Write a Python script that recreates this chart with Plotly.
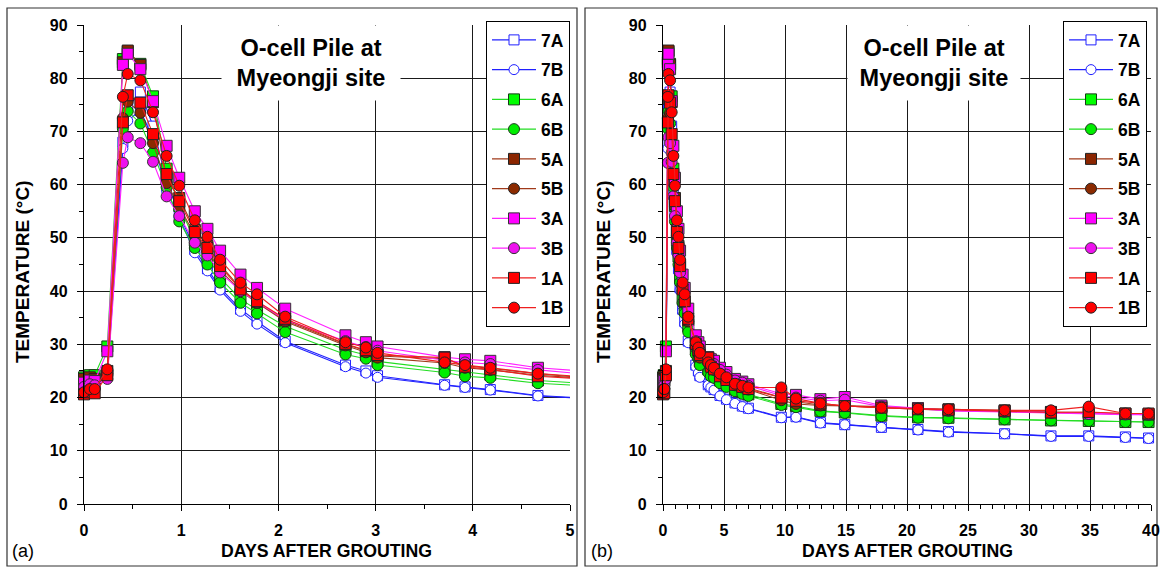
import plotly.graph_objects as go

# ---------------- data ----------------
days = [0, 0.06, 0.11, 0.24, 0.40, 0.45, 0.58, 0.71, 0.85, 0.98, 1.14, 1.27, 1.40,
        1.61, 1.78, 2.07, 2.69, 2.90, 3.02, 3.71, 3.92, 4.18, 4.67, 5.2, 5.9, 6.5, 7.0,
        9.7, 10.9, 12.9, 14.9, 17.9, 20.9, 23.4, 28.0, 31.8, 34.9, 37.9, 39.8]

t7A = [22.5, 22.8, 22.5, 24.5, 68.0, 74.5, 77.4, 71.0, 60.5, 54.5, 47.8, 44.2, 40.6,
       36.6, 34.3, 30.6, 26.1, 25.0, 24.1, 22.4, 22.0, 21.5, 20.4, 19.7, 19.0, 18.4, 18.0,
       16.3, 16.4, 15.3, 14.9, 14.4, 14.0, 13.6, 13.2, 12.8, 12.8, 12.6, 12.4]
t7B = [21.5, 22.0, 22.0, 23.8, 66.8, 72.0, 74.0, 68.5, 58.8, 53.8, 47.2, 43.8, 40.2,
       36.2, 33.8, 30.3, 25.8, 24.6, 23.8, 22.3, 21.9, 21.4, 20.3, 19.6, 18.9, 18.3, 17.9,
       16.2, 16.3, 15.2, 14.9, 14.4, 13.9, 13.5, 13.2, 12.7, 12.7, 12.5, 12.3]
t6A = [23.8, 24.2, 24.2, 29.6, 83.6, 85.0, 82.7, 76.6, 63.0, 56.0, 49.5, 46.5, 42.5,
       38.5, 36.5, 33.4, 29.0, 28.0, 26.8, 25.3, 24.8, 24.3, 23.2, 22.5, 21.5, 21.0, 20.6,
       18.8, 18.4, 17.5, 17.2, 16.6, 16.3, 16.2, 15.9, 15.7, 15.6, 15.4, 15.4]
t6B = [22.5, 23.0, 23.0, 25.0, 70.5, 73.8, 71.5, 66.0, 59.5, 53.1, 48.1, 45.0, 41.6,
       37.8, 35.8, 32.3, 28.1, 27.3, 26.1, 24.7, 24.0, 23.7, 22.7, 22.0, 21.2, 20.7, 20.3,
       18.6, 18.2, 17.4, 17.1, 16.5, 16.2, 16.1, 15.9, 15.7, 15.6, 15.4, 15.4]
t5A = [23.5, 23.8, 23.5, 25.0, 83.0, 85.2, 82.5, 75.5, 61.0, 57.5, 51.5, 48.5, 45.0,
       40.5, 38.0, 34.5, 30.0, 28.8, 27.8, 27.3, 26.0, 25.5, 24.5, 23.6, 22.5, 22.2, 21.8,
       20.0, 19.2, 18.6, 18.5, 18.3, 18.0, 17.8, 17.6, 17.3, 17.2, 17.0, 16.8]
t5B = [21.5, 22.0, 21.8, 24.5, 72.5, 75.6, 73.5, 67.8, 60.3, 55.9, 50.5, 47.5, 44.0,
       40.0, 37.8, 34.3, 29.8, 28.5, 27.5, 26.5, 25.6, 25.2, 24.2, 23.4, 22.3, 21.9, 21.5,
       19.5, 18.8, 18.5, 18.4, 18.1, 17.8, 17.6, 17.4, 17.2, 17.0, 16.9, 16.8]
t3A = [22.8, 23.2, 23.1, 28.7, 82.5, 84.6, 81.7, 75.7, 67.3, 61.3, 55.0, 51.7, 47.6,
       43.1, 40.6, 36.7, 31.7, 30.4, 29.6, 27.6, 27.2, 26.9, 25.6, 24.8, 23.5, 23.0, 22.5,
       20.7, 20.5, 19.7, 20.1, 18.5, 18.0, 17.6, 17.4, 17.2, 17.0, 16.9, 16.9]
t3B = [22.0, 22.5, 22.3, 23.5, 64.1, 68.9, 67.8, 64.3, 57.8, 54.1, 49.1, 46.7, 43.5,
       40.0, 38.0, 34.6, 30.6, 29.5, 28.8, 27.0, 26.6, 26.3, 25.2, 24.3, 23.2, 22.8, 22.2,
       20.4, 20.0, 19.4, 19.6, 18.3, 17.9, 17.5, 17.3, 17.1, 16.9, 16.8, 16.8]
t1A = [20.6, 21.0, 20.8, 24.2, 71.7, 76.8, 75.4, 69.5, 62.0, 56.9, 51.1, 48.1, 44.7,
       40.3, 38.1, 34.8, 30.1, 28.9, 28.0, 27.5, 25.8, 25.3, 24.0, 23.3, 22.4, 22.0, 21.6,
       20.0, 19.4, 18.9, 18.4, 18.1, 17.8, 17.7, 17.5, 17.2, 17.3, 17.0, 17.0]
t1B = [21.0, 21.6, 21.6, 25.3, 76.5, 80.8, 79.6, 73.6, 65.4, 59.8, 53.3, 50.2, 45.9,
       41.6, 39.4, 35.2, 30.4, 29.4, 28.4, 26.6, 26.1, 25.6, 24.5, 23.8, 22.6, 22.2, 21.9,
       21.9, 19.8, 18.9, 18.4, 18.1, 17.9, 17.8, 17.6, 17.6, 18.3, 17.0, 17.0]

series_names = ["7A", "7B", "6A", "6B", "5A", "5B", "3A", "3B", "1A", "1B"]
series_vals = [t7A, t7B, t6A, t6B, t5A, t5B, t3A, t3B, t1A, t1B]
x_ticks_a = [0, 1, 2, 3, 4, 5]
x_ticks_b = [0, 5, 10, 15, 20, 25, 30, 35, 40]
y_ticks = [0, 10, 20, 30, 40, 50, 60, 70, 80, 90]

# ---------------- styles ----------------
styles = {
    "7A": dict(line="#2020ff", fill="white", edge="#2020ff", sym="square", size=10),
    "7B": dict(line="#2020ff", fill="white", edge="#2020ff", sym="circle", size=10),
    "6A": dict(line="#22dd22", fill="#00ff00", edge="#1a3a1a", sym="square", size=11),
    "6B": dict(line="#22dd22", fill="#00ee00", edge="#1a3a1a", sym="circle", size=11),
    "5A": dict(line="#a03a1a", fill="#8b2500", edge="#222222", sym="square", size=11),
    "5B": dict(line="#a03a1a", fill="#8b2a00", edge="#222222", sym="circle", size=11),
    "3A": dict(line="#ff22ff", fill="#ff00ff", edge="#333333", sym="square", size=11),
    "3B": dict(line="#ff22ff", fill="#ee11ee", edge="#333333", sym="circle", size=11),
    "1A": dict(line="#ee2020", fill="#ff0000", edge="#222222", sym="square", size=11),
    "1B": dict(line="#ee2020", fill="#ff0000", edge="#222222", sym="circle", size=11),
}

W, H = 1161, 569
def px_x(p):
    return p / W
def px_y(p):
    return 1 - p / H

fig = go.Figure()

# panel (a): overflow lines beyond x=5 (clipped by axis), drawn underneath
XMAX_A = 5
for name, vals in zip(series_names, series_vals):
    st = styles[name]
    idx = [i for i, d in enumerate(days) if d <= XMAX_A]
    last = idx[-1]
    fig.add_trace(go.Scatter(
        x=days[last:], y=vals[last:], mode="lines",
        line=dict(color=st["line"], width=1.1),
        showlegend=False, hoverinfo="skip", xaxis="x", yaxis="y"))

for name, vals in zip(series_names, series_vals):
    st = styles[name]
    xs = [d for d in days if d <= XMAX_A]
    ys = vals[:len(xs)]
    fig.add_trace(go.Scatter(
        x=xs, y=ys, mode="lines+markers", name=name,
        line=dict(color=st["line"], width=1.1),
        marker=dict(symbol=st["sym"], size=st["size"], color=st["fill"],
                    line=dict(color=st["edge"], width=1)),
        cliponaxis=False, legend="legend", legendgroup="a" + name,
        xaxis="x", yaxis="y"))

for name, vals in zip(series_names, series_vals):
    st = styles[name]
    fig.add_trace(go.Scatter(
        x=days, y=vals, mode="lines+markers", name=name,
        line=dict(color=st["line"], width=1.1),
        marker=dict(symbol=st["sym"], size=st["size"], color=st["fill"],
                    line=dict(color=st["edge"], width=1)),
        cliponaxis=False, legend="legend2", legendgroup="b" + name,
        xaxis="x2", yaxis="y2"))

# ---------------- layout ----------------
FONT = "Liberation Sans, Arial, sans-serif"
plot_top, plot_bot = 25, 504
ydom = [px_y(plot_bot), px_y(plot_top)]

def xaxis(domain, rng, tickvals, minor_dtick, anchor):
    return dict(domain=domain, range=rng, tickvals=tickvals, anchor=anchor,
                automargin=False,
                showgrid=True, gridcolor="#1a1a1a", gridwidth=1.4,
                showline=True, linecolor="black", linewidth=1.4,
                ticks="outside", ticklen=6, tickcolor="black", tickwidth=1.3,
                minor=dict(dtick=minor_dtick, tick0=0, ticks="outside", ticklen=4,
                           tickcolor="black", tickwidth=1, showgrid=False),
                tickfont=dict(family=FONT, size=16, color="black", weight="bold"),
                ticklabelstandoff=6,
                zeroline=False, fixedrange=True)

def yaxis(anchor):
    return dict(domain=ydom, range=[0, 90], tickvals=y_ticks, anchor=anchor,
                automargin=False,
                showgrid=True, gridcolor="#1a1a1a", gridwidth=1.4,
                showline=True, linecolor="black", linewidth=1.4,
                ticks="outside", ticklen=6, tickcolor="black", tickwidth=1.3,
                minor=dict(dtick=5, tick0=0, ticks="outside", ticklen=4,
                           tickcolor="black", tickwidth=1, showgrid=False),
                tickfont=dict(family=FONT, size=16, color="black", weight="bold"),
                ticklabelstandoff=6,
                zeroline=False, fixedrange=True)

xa = xaxis([px_x(84), px_x(570)], [0, 5], x_ticks_a, 0.5, "y")
xb = xaxis([px_x(663), px_x(1151)], [0, 40], x_ticks_b, 1, "y2")

legend_common = dict(yanchor="top", xanchor="left", bgcolor="white",
                     bordercolor="black", borderwidth=1,
                     font=dict(family=FONT, size=17.5, color="black", weight="bold"),
                     traceorder="grouped", tracegroupgap=4, itemwidth=44)

annotations = []
for cx, bw in ((311, 178), (934, 172)):
    annotations.append(dict(
        text="O-cell Pile at<br>Myeongji site", x=px_x(cx), y=px_y(63),
        xanchor="center", yanchor="middle", width=bw, height=74,
        xref="paper", yref="paper", showarrow=False, align="center", valign="middle",
        font=dict(family=FONT, size=23.5, color="black", weight="bold"),
        bgcolor="white", borderpad=0))
for cx in (326, 907):
    annotations.append(dict(
        text="DAYS AFTER GROUTING", x=px_x(cx), y=px_y(551),
        xanchor="center", yanchor="middle",
        xref="paper", yref="paper", showarrow=False,
        font=dict(family=FONT, size=17.7, color="black", weight="bold")))
for ty_x in (22, 603):
    annotations.append(dict(
        text="TEMPERATURE (°C)", x=px_x(ty_x), y=px_y(272), textangle=-90,
        xanchor="center", yanchor="middle",
        xref="paper", yref="paper", showarrow=False,
        font=dict(family=FONT, size=19, color="black", weight="bold")))
for lab, lx in (("(a)", 10), ("(b)", 589)):
    annotations.append(dict(
        text=lab, x=px_x(lx), y=px_y(551), xanchor="left", yanchor="middle",
        xref="paper", yref="paper", showarrow=False,
        font=dict(family=FONT, size=18, color="black")))

shapes = [
    dict(type="rect", xref="paper", yref="paper",
         x0=px_x(7), x1=px_x(577), y0=px_y(566), y1=px_y(8),
         line=dict(color="#333333", width=1.2), layer="below"),
    dict(type="rect", xref="paper", yref="paper",
         x0=px_x(585), x1=px_x(1157), y0=px_y(566), y1=px_y(8),
         line=dict(color="#333333", width=1.2), layer="below"),
]

fig.update_layout(
    width=W, height=H, margin=dict(l=0, r=0, t=0, b=0, autoexpand=False),
    paper_bgcolor="white", plot_bgcolor="white",
    xaxis=xa, yaxis=yaxis("x"), xaxis2=xb, yaxis2=yaxis("x2"),
    legend=dict(x=px_x(486), y=px_y(21), **legend_common),
    legend2=dict(x=px_x(1063), y=px_y(21), **legend_common),
    annotations=annotations, shapes=shapes,
    font=dict(family=FONT),
)

fig.write_html("out.html")
